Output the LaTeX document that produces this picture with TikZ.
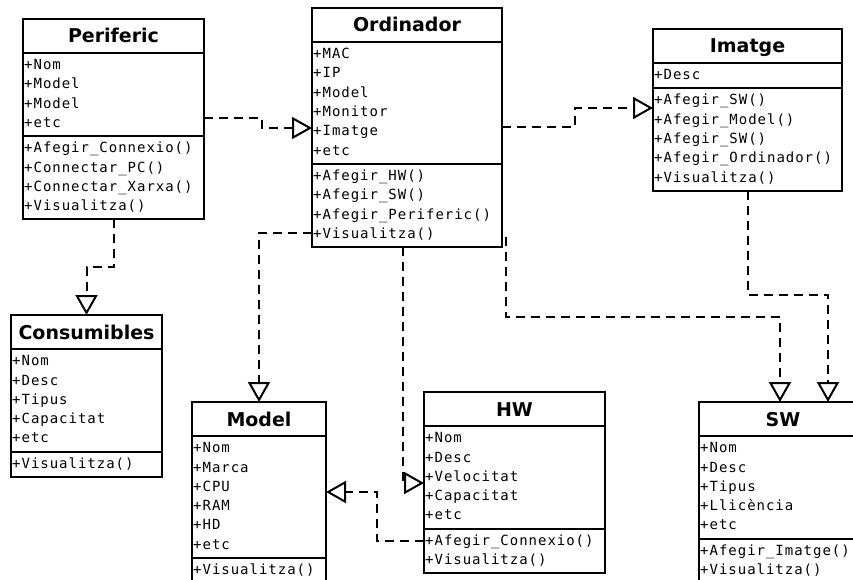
\documentclass[tikz,border=0pt]{standalone}
\usepackage{fontspec}
\usetikzlibrary{arrows.meta,calc}
\newfontfamily\umlmonofont[LetterSpace=7]{DejaVu Sans Mono}
\newfontfamily\umlsansfont{DejaVu Sans}
\tikzset{
  umlbox/.style={draw, line width=2pt, inner sep=0pt, outer sep=0pt, fill=white},
  umlsep/.style={line width=2pt},
  umltitle/.style={inner sep=0pt, font=\umlsansfont\bfseries\fontsize{19}{22}\selectfont},
  umlrow/.style={inner sep=0pt, font=\umlmonofont\fontsize{14}{16}\selectfont},
  conn/.style={line width=2pt, dash pattern=on 9pt off 6pt, -{Triangle[open,length=20pt,width=22pt]}}
}
% #1 id, #2 x, #3 y, #4 width, #5 title, #6 nattr, #7 attrs, #8 nmeth, #9 meths
\newcommand\umlclass[9]{%
  \pgfmathsetmacro\umlhA{#6*19.3+6}%
  \pgfmathsetmacro\umlhM{#8*19.3+6}%
  \pgfmathsetmacro\umlhT{34+\umlhA+\umlhM}%
  \node[umlbox, minimum width=#4pt, minimum height=\umlhT pt, anchor=north west] (#1) at (#2,#3) {};
  \node[umltitle, anchor=base] (#1-t) at ({#2+#4/2},{#3+24}) {#5};
  \draw[umlsep] (#2,{#3+34}) -- ++(#4,0);
  \draw[umlsep] (#2,{#3+34+\umlhA}) -- ++(#4,0);
  \foreach \umltxt [count=\i from 0] in {#7}
    \node[umlrow, anchor=base west] (#1-a\i) at ({#2+1},{#3+50.7+19.3*\i}) {\umltxt};
  \foreach \umltxt [count=\i from 0] in {#9}
    \node[umlrow, anchor=base west] (#1-m\i) at ({#2+1},{#3+34+\umlhA+16.7+19.3*\i}) {\umltxt};
}
\begin{document}
\begin{tikzpicture}[x=1pt,y=-1pt]
\fill[white] (0,0) rectangle (853,580);
\clip (0,0) rectangle (853,580);

\umlclass{per}{23}{19}{181}{Periferic}{4}{+Nom,+Model,+Model,+etc}{4}{+Afegir\_Connexio(),+Connectar\_PC(),+Connectar\_Xarxa(),+Visualitza()}
\umlclass{ord}{312}{8}{190}{Ordinador}{6}{+MAC,+IP,+Model,+Monitor,+Imatge,+etc}{4}{+Afegir\_HW(),+Afegir\_SW(),+Afegir\_Periferic(),+Visualitza()}
\umlclass{img}{653}{29}{189}{Imatge}{1}{+Desc}{5}{+Afegir\_SW(),+Afegir\_Model(),+Afegir\_SW(),+Afegir\_Ordinador(),+Visualitza()}
\umlclass{con}{11}{315}{151}{Consumibles}{5}{+Nom,+Desc,+Tipus,+Capacitat,+etc}{1}{+Visualitza()}
\umlclass{mod}{192}{402}{134}{Model}{6}{+Nom,+Marca,+CPU,+RAM,+HD,+etc}{1}{+Visualitza()}
\umlclass{hw}{424}{392}{181}{HW}{5}{+Nom,+Desc,+Velocitat,+Capacitat,+etc}{2}{+Afegir\_Connexio(),+Visualitza()}
\umlclass{sw}{699}{402}{168}{SW}{5}{+Nom,+Desc,+Tipus,+Llicència,+etc}{2}{+Afegir\_Imatge(),+Visualitza()}

\draw[conn] ([yshift=-99pt]per.north east) -- ++(58,0) |- ([yshift=-120pt]ord.north west);
\draw[conn] ([yshift=-119pt]ord.north east) -- ++(73,0) |- ([yshift=-79pt]img.north west);
\draw[conn] (per.south) -- ++(0,48) -| (con.north);
\draw[conn] ([yshift=-225pt]ord.north west) -| (mod.north);
\draw[conn] ([xshift=-4pt]ord.south) |- ([yshift=-91pt]hw.north west);
\draw[conn] ([xshift=4pt,yshift=-229pt]ord.north east) -- ++(0,80) -| ([xshift=81pt]sw.north west);
\draw[conn] (img.south) -- ++(0,104) -| ([xshift=129pt]sw.north west);
\draw[conn] ([yshift=-149pt]hw.north west) -- ++(-47,0) |- ([yshift=-90pt]mod.north east);
\end{tikzpicture}
\end{document}
